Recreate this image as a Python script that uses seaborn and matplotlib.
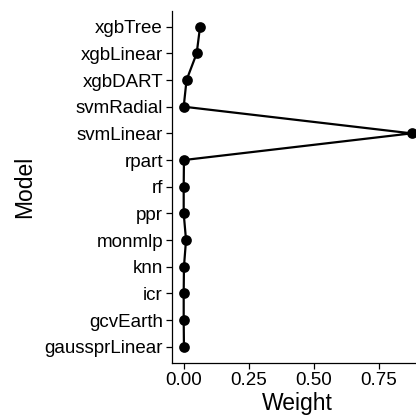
import matplotlib
matplotlib.use("Agg")
import matplotlib.pyplot as plt
import seaborn as sns
import pandas as pd

models = ["xgbTree", "xgbLinear", "xgbDART", "svmRadial", "svmLinear", "rpart",
          "rf", "ppr", "monmlp", "knn", "icr", "gcvEarth", "gaussprLinear"]
weights = [0.063, 0.050, 0.011, 0.0, 0.877, 0.001, 0.0, 0.0, 0.009, 0.001, 0.0, 0.0, 0.001]
xticks = [0.00, 0.25, 0.50, 0.75]
xticklabels = ["0.00", "0.25", "0.50", "0.75"]

sns.set_theme(style="ticks")
plt.rcParams["font.family"] = ["Liberation Sans", "DejaVu Sans"]

df = pd.DataFrame({"Model": models, "Weight": weights})

fig = plt.figure(figsize=(4.16, 4.18), dpi=100)
ax = fig.add_axes([172/416, 1 - 362.7/418, (423 - 172)/416, (362.7 - 10.7)/418])
sns.pointplot(data=df, x="Weight", y="Model", order=models, orient="h",
              color="black", markersize=6.5, linewidth=1.6, ax=ax)
ax.set_xlim(-0.045, 0.921)
ax.set_ylim(len(models) - 0.4, -0.6)
ax.set_xticks(xticks)
ax.set_xticklabels(xticklabels)
for s in ["top", "right"]:
    ax.spines[s].set_visible(False)
for s in ["left", "bottom"]:
    ax.spines[s].set_color("black")
    ax.spines[s].set_linewidth(0.9)
ax.tick_params(axis="both", colors="black", labelsize=13.5, length=4, width=0.9,
               direction="out", pad=2.5)
ax.set_xlabel("Weight", fontsize=16.5, color="black", labelpad=2)
ax.set_ylabel("Model", fontsize=16.5, color="black", labelpad=6)
ax.grid(False)
fig.savefig("out.png", dpi=100)
